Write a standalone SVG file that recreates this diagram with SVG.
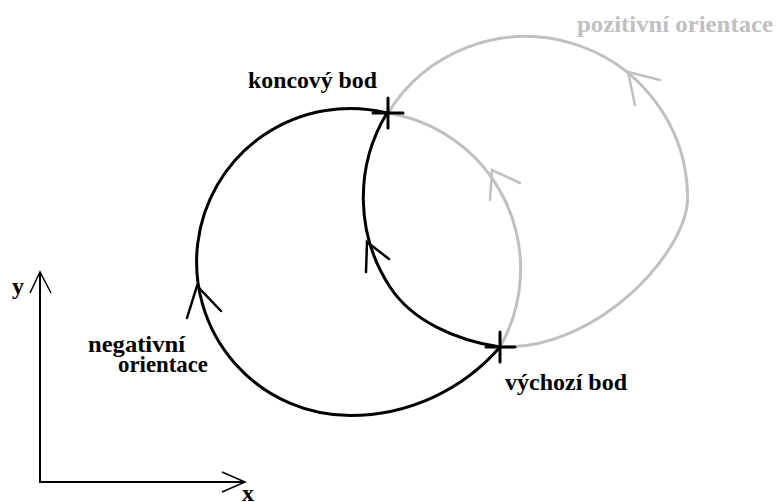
<svg xmlns="http://www.w3.org/2000/svg" width="777" height="502" viewBox="0 0 777 502">
<style>
.lbl{font-family:"Liberation Serif","Times New Roman",serif;font-weight:bold;font-size:24px;fill:#000}
.gl{fill:#c0c0c0}
.blk{fill:none;stroke:#000;stroke-width:3;stroke-linecap:round;stroke-linejoin:round}
.gry{fill:none;stroke:#c0c0c0;stroke-width:3;stroke-linecap:round;stroke-linejoin:round}
.arm{fill:none;stroke-width:2.5;stroke-linecap:round}
.ax{fill:none;stroke:#000;stroke-width:2}
.axh{fill:none;stroke:#000;stroke-width:1.5}
</style>
<rect width="777" height="502" fill="#fff"/>
<g id="gray-curves">
<path class="gry" d="M388,113 A158,158 0 0 1 500,347"/>
<path class="gry" d="M388,113 A162,162 0 0 1 687.6,197.6 C688,250 600,350 500,347"/>
<polyline class="arm" stroke="#c0c0c0" points="490,200 492,170 520,183"/>
<polyline class="arm" stroke="#c0c0c0" points="635,105 628,72 660,80"/>
</g>
<g id="black-curves">
<path class="blk" d="M387,113 A153.5,153.5 0 1 0 350,415.5 A198.5,198.5 0 0 0 500,347"/>
<path class="blk" d="M387,113 A163,163 0 0 0 390,287 C411.8,320.6 455.5,340.3 500,347"/>
<polyline class="arm" stroke="#000" points="187,318 197,286 221,311"/>
<polyline class="arm" stroke="#000" points="366,272 367,242 389,259"/>
</g>
<g id="koncovy-bod">
<path class="blk" d="M388,98 V128 M373,113 H403"/>
<text class="lbl" x="248" y="88" textLength="129" lengthAdjust="spacingAndGlyphs">koncový bod</text>
</g>
<g id="vychozi-bod">
<path class="blk" d="M500,332 V362 M486,347 H515"/>
<text class="lbl" x="505" y="390" textLength="122" lengthAdjust="spacingAndGlyphs">výchozí bod</text>
</g>
<g id="pozitivni-orientace">
<text class="lbl gl" x="577" y="32" textLength="196" lengthAdjust="spacingAndGlyphs">pozitivní orientace</text>
</g>
<g id="negativni-orientace">
<text class="lbl" x="88" y="352" textLength="97" lengthAdjust="spacingAndGlyphs">negativní</text>
<text class="lbl" x="118" y="372" textLength="90" lengthAdjust="spacingAndGlyphs">orientace</text>
</g>
<g id="axes">
<path class="ax" d="M40,272 V482 H245"/>
<polyline class="axh" points="30,293 40,272 51,293"/>
<polyline class="axh" points="222,472 245,482 222,492"/>
<text class="lbl" x="12" y="294">y</text>
<text class="lbl" x="242" y="501">x</text>
</g>
</svg>
